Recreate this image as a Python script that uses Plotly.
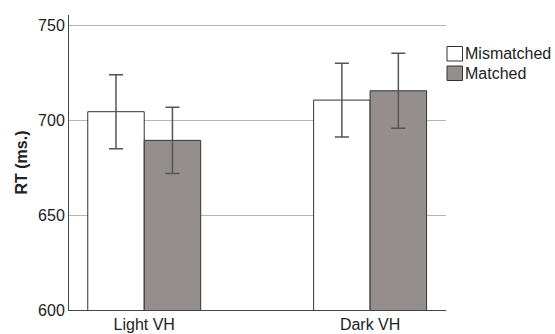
import plotly.graph_objects as go

categories = ["Light VH", "Dark VH"]
series_names = ["Mismatched", "Matched"]
mismatched = [704.4, 710.5]
matched = [689.3, 715.4]
mismatched_err = [19.5, 19.4]
matched_err = [17.4, 19.7]
y_ticks = [600, 650, 700, 750]

fills = ["#ffffff", "#948f8e"]
FONT = "Liberation Sans, Arial, sans-serif"

fig = go.Figure()
for name, vals, errs, col in zip(series_names, [mismatched, matched],
                                  [mismatched_err, matched_err], fills):
    fig.add_trace(go.Bar(
        x=categories, y=vals, name=name,
        marker=dict(color=col, line=dict(color="#333333", width=1)),
        error_y=dict(type="data", array=errs, visible=True,
                     color="#555555", thickness=1.5, width=7),
        showlegend=False,
    ))

fig.update_layout(
    width=555, height=334,
    margin=dict(l=69, r=109, t=15, b=24),
    paper_bgcolor="white", plot_bgcolor="white",
    barmode="group", bargap=0.5, bargroupgap=0,
    font=dict(family=FONT, size=16, color="#222222"),
    xaxis=dict(range=[-0.333, 1.336], showgrid=False, showline=True,
               linecolor="#444444", linewidth=1, ticks="", automargin=False,
               tickfont=dict(size=16)),
    yaxis=dict(range=[600, 755.3], tickvals=y_ticks, showgrid=True,
               gridcolor="#b4b4b4", gridwidth=1, zeroline=False, automargin=False,
               showline=True, linecolor="#444444", linewidth=1, ticks="",
               tickfont=dict(size=16),
               title=dict(text="<b>RT (ms.)</b>", font=dict(size=16), standoff=6)),
)

# legend drawn manually to match reference layout
box_y = [(46.5, 61), (66, 80.5)]
for (name, col), (y0, y1) in zip(zip(series_names, fills), box_y):
    fig.add_shape(type="rect", xref="paper", yref="paper",
                  x0=(447 - 69) / 377, x1=(462.5 - 69) / 377,
                  y0=(310 - y1) / 295, y1=(310 - y0) / 295,
                  fillcolor=col, line=dict(color="#333333", width=1))
    fig.add_annotation(text=name, xref="paper", yref="paper",
                       x=(463.5 - 69) / 377, y=(310 - (y0 + y1) / 2) / 295,
                       xanchor="left", yanchor="middle", showarrow=False,
                       font=dict(size=16, color="#222222"))

fig.write_html("out.html")
